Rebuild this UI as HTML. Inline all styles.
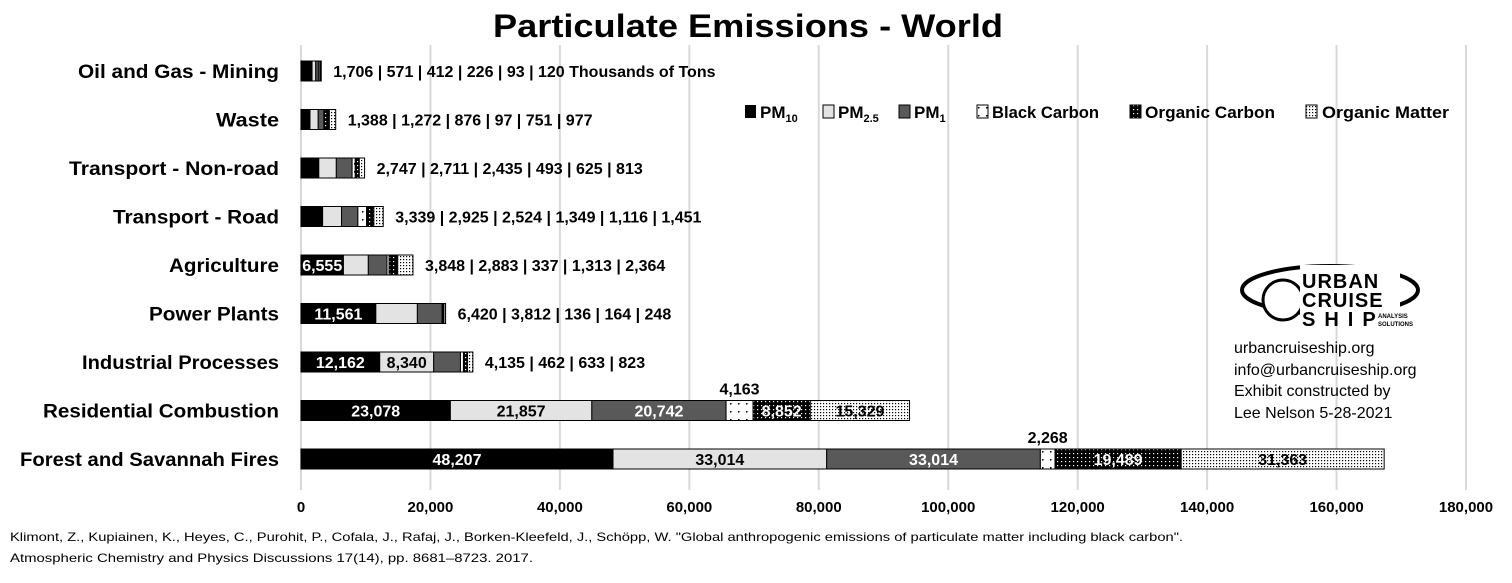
<!DOCTYPE html>
<html><head><meta charset="utf-8"><style>
body{margin:0;background:#fff}
svg{display:block;font-family:"Liberation Sans",sans-serif}
.b{font-weight:bold}
</style></head><body>
<svg width="1512" height="583" viewBox="0 0 1512 583">
<defs>
<pattern id="pBC" width="8" height="8" patternUnits="userSpaceOnUse"><rect width="8" height="8" fill="#fff"/><rect x="2" y="3" width="1.5" height="1.5" fill="#000"/></pattern>
<pattern id="pOC" width="4" height="4" patternUnits="userSpaceOnUse"><rect width="4" height="4" fill="#000"/><rect x="1" y="1" width="1.2" height="1.2" fill="#fff"/></pattern>
<pattern id="pOM" width="3" height="3" patternUnits="userSpaceOnUse"><rect width="3" height="3" fill="#fff"/><rect x="1" y="1" width="1.2" height="1.2" fill="#000"/></pattern>
</defs>
<text x="748" y="37" text-anchor="middle" class="b" font-size="32" textLength="510" lengthAdjust="spacingAndGlyphs">Particulate Emissions - World</text>
<g id="grid"></g>
<g id="bars"></g>
<g id="cats"></g>
<g id="ticks"></g>
<g class="b" font-size="17">
 <g><rect x="745" y="105" width="11" height="13" fill="#000"/><text x="760" y="118">PM<tspan font-size="11" dy="4">10</tspan></text></g>
 <g><rect x="823" y="105" width="11" height="13" fill="#e3e3e3" stroke="#000"/><text x="838" y="118">PM<tspan font-size="11" dy="4">2.5</tspan></text></g>
 <g><rect x="899" y="105" width="11" height="13" fill="#595959" stroke="#000"/><text x="914" y="118">PM<tspan font-size="11" dy="4">1</tspan></text></g>
 <g><rect x="977" y="105" width="11" height="13" fill="url(#pBC)" stroke="#000"/><text x="992" y="118" textLength="107" lengthAdjust="spacingAndGlyphs">Black Carbon</text></g>
 <g><rect x="1130" y="105" width="11" height="13" fill="url(#pOC)" stroke="#000"/><text x="1145" y="118" textLength="130" lengthAdjust="spacingAndGlyphs">Organic Carbon</text></g>
 <g><rect x="1306" y="105" width="11" height="13" fill="url(#pOM)" stroke="#000"/><text x="1322" y="118" textLength="127" lengthAdjust="spacingAndGlyphs">Organic Matter</text></g>
</g>
<g>
 <ellipse cx="1330" cy="290" rx="88" ry="24" fill="none" stroke="#000" stroke-width="4"/>
 <circle cx="1283" cy="300" r="20" fill="#fff" stroke="#000" stroke-width="3"/>
 <rect x="1300" y="265" width="100" height="60" fill="#fff"/>
 <text x="1302" y="288" class="b" font-size="20" letter-spacing="1">URBAN</text>
 <text x="1302" y="307" class="b" font-size="20" letter-spacing="1">CRUISE</text>
 <text x="1302" y="326" class="b" font-size="20" letter-spacing="9">SHIP</text>
 <text x="1378" y="318" font-size="6" class="b">ANALYSIS</text>
 <text x="1378" y="326" font-size="6" class="b">SOLUTIONS</text>
</g>
<g font-size="16">
 <text x="1234" y="353">urbancruiseship.org</text>
 <text x="1234" y="375">info@urbancruiseship.org</text>
 <text x="1234" y="396">Exhibit constructed by</text>
 <text x="1234" y="418">Lee Nelson 5-28-2021</text>
</g>
<g font-size="12">
 <text x="10" y="541" textLength="1173" lengthAdjust="spacingAndGlyphs">Klimont, Z., Kupiainen, K., Heyes, C., Purohit, P., Cofala, J., Rafaj, J., Borken-Kleefeld, J., Schöpp, W. "Global anthropogenic emissions of particulate matter including black carbon".</text>
 <text x="10" y="562" textLength="523" lengthAdjust="spacingAndGlyphs">Atmospheric Chemistry and Physics Discussions 17(14), pp. 8681–8723. 2017.</text>
</g>
</svg>
<script>
const categories=["Oil and Gas - Mining","Waste","Transport - Non-road","Transport - Road","Agriculture","Power Plants","Industrial Processes","Residential Combustion","Forest and Savannah Fires"];
const pm10=[1706,1388,2747,3339,6555,11561,12162,23078,48207];
const pm25=[571,1272,2711,2925,3848,6420,8340,21857,33014];
const pm1=[412,876,2435,2524,2883,3812,4135,20742,33014];
const blackCarbon=[226,97,493,1349,337,136,462,4163,2268];
const organicCarbon=[93,751,625,1116,1313,164,633,8852,19489];
const organicMatter=[120,977,813,1451,2364,248,823,15329,31363];
const tickValues=[0,20000,40000,60000,80000,100000,120000,140000,160000,180000];
const labelWidths=[201,63,210,166,110,130,197,236,259];
const NS="http://www.w3.org/2000/svg";
const x0=301,x1=1466,xmax=180000;
const xs=v=>x0+v/xmax*(x1-x0);
const yc=i=>71+i*48.5;
function mk(t,a,p){const e=document.createElementNS(NS,t);for(const k in a)e.setAttribute(k,a[k]);if(p)p.appendChild(e);return e;}
const grid=document.getElementById('grid'),bars=document.getElementById('bars'),cats=document.getElementById('cats'),ticks=document.getElementById('ticks');
tickValues.forEach(v=>{
 const l=mk('line',{x1:xs(v),x2:xs(v),y1:45,y2:490,stroke:'#d9d9d9','stroke-width':2},grid);
 
 
 const t=mk('text',{x:xs(v),y:512,'text-anchor':'middle','font-size':15,'font-weight':'bold'},ticks);
 t.textContent=v.toLocaleString('en-US');
 
 
});
const series=[pm10,pm25,pm1,blackCarbon,organicCarbon,organicMatter];
const fills=['#000','#e3e3e3','#595959','url(#pBC)','url(#pOC)','url(#pOM)'];
const names=['pm10','pm25','pm1','black-carbon','organic-carbon','organic-matter'];
const txtCol=['#fff','#000','#fff','#000','#fff','#000'];
categories.forEach((c,i)=>{
 const y=yc(i);
 const t=mk('text',{x:279,y:y+7,'text-anchor':'end','font-size':19,'font-weight':'bold',textLength:labelWidths[i],lengthAdjust:'spacingAndGlyphs'},cats);
 t.textContent=c;
 
 
 let acc=0;const rest=[];
 series.forEach((s,k)=>{
  const v=s[i];const xa=xs(acc),xb=xs(acc+v);
  const r=mk('rect',{x:xa,y:y-10,width:xb-xa,height:20,fill:fills[k],stroke:'#000','stroke-width':1},bars);
  
  
  const w=xb-xa;
  if(w>50||(k===0&&w>40)){
   const lt=mk('text',{x:(xa+xb)/2,y:y+6,'text-anchor':'middle','font-size':16,'font-weight':'bold',fill:txtCol[k]},bars);
   lt.textContent=v.toLocaleString('en-US');
   
   
  } else if(acc+v>30000){
   const lt=mk('text',{x:(xa+xb)/2,y:y-16,'text-anchor':'middle','font-size':16,'font-weight':'bold'},bars);
   lt.textContent=v.toLocaleString('en-US');
   
   
  } else rest.push(v.toLocaleString('en-US'));
  acc+=v;
 });
 if(rest.length){
  const rt=mk('text',{x:xs(acc)+12,y:y+6,'font-size':16,'font-weight':'bold'},bars);
  rt.textContent=rest.join(' | ')+(i===0?'  Thousands of Tons':'');
  
  
 }
});
</script>
</body></html>
